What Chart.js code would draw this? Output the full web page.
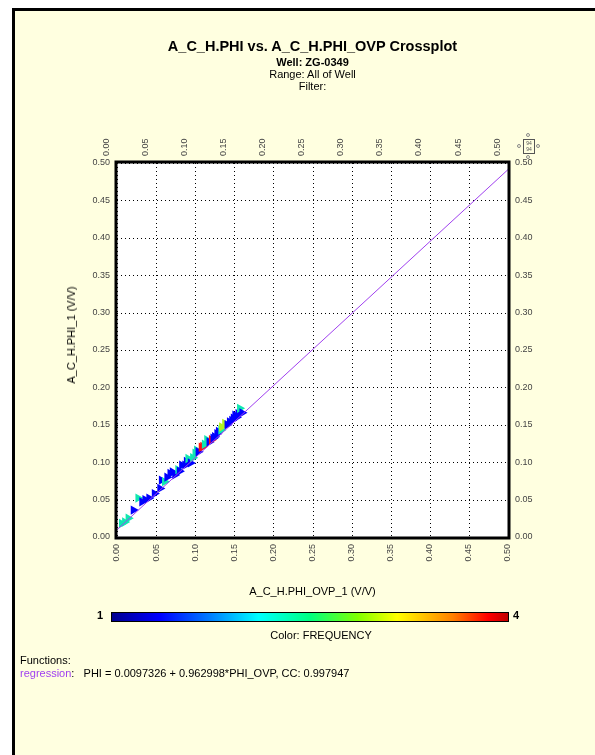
<!DOCTYPE html>
<html>
<head>
<meta charset="utf-8">
<script src="https://cdn.jsdelivr.net/npm/chart.js@4/dist/chart.umd.min.js"></script>
<style>
  body { margin: 0; background: #fff; font-family: "Liberation Sans", Arial, sans-serif; }
  #page { position: relative; width: 595px; height: 755px; overflow: hidden; background: #fff; }
  #frame { position: absolute; left: 12px; top: 8px; width: 600px; height: 760px; border: 3px solid #000; background: #ffffe0; }
  #chart { position: absolute; left: 0; top: 0; }
  .t { position: absolute; white-space: nowrap; color: #000; }
  .o { position: absolute; width: 2px; height: 2px; border: 1px solid #888; border-radius: 50%; }
  #colorbar { position: absolute; left: 111px; top: 612px; width: 396px; height: 8px; border: 1px solid #000;
    background: linear-gradient(to right, #00008f 0%, #0000ff 12%, #0080ff 25%, #00ffff 37%, #00ff80 50%, #80ff00 62%, #ffff00 72%, #ff8000 86%, #ff0000 95%, #c00000 100%); }
</style>
</head>
<body>
<div id="page">
  <div id="frame"></div>
  <canvas id="chart" width="595" height="755"></canvas>
  <div class="t" style="left:0;width:625px;top:38px;text-align:center;font-size:14.5px;font-weight:bold;">A_C_H.PHI vs. A_C_H.PHI_OVP Crossplot</div>
  <div class="t" style="left:0;width:625px;top:56px;text-align:center;font-size:11px;font-weight:bold;">Well: ZG-0349</div>
  <div class="t" style="left:0;width:625px;top:68px;text-align:center;font-size:11px;">Range: All of Well</div>
  <div class="t" style="left:0;width:625px;top:80px;text-align:center;font-size:11px;">Filter:</div>
  <div class="t" style="left:523px;top:139px;width:10px;height:13px;border:1px solid #555;font-size:5px;line-height:6px;color:#555;text-align:center;">94<br>94</div>
  <div class="o" style="left:526px;top:133px;"></div>
  <div class="o" style="left:526px;top:155px;"></div>
  <div class="o" style="left:517px;top:144px;"></div>
  <div class="o" style="left:536px;top:144px;"></div>
  <div class="t" style="left:71px;top:335px;font-size:11px;transform:translate(-50%,-50%) rotate(-90deg);">A_C_H.PHI_1 (V/V)</div>
  <div class="t" style="left:0;width:625px;top:585px;text-align:center;font-size:11px;">A_C_H.PHI_OVP_1 (V/V)</div>
  <div class="t" style="left:97px;top:609px;font-size:11px;font-weight:bold;">1</div>
  <div id="colorbar"></div>
  <div class="t" style="left:513px;top:609px;font-size:11px;font-weight:bold;">4</div>
  <div class="t" style="left:0;width:642px;top:629px;text-align:center;font-size:11px;">Color: FREQUENCY</div>
  <div class="t" style="left:20px;top:654px;font-size:11px;">Functions:</div>
  <div class="t" style="left:20px;top:667px;font-size:11px;"><span style="color:#a040f0;">regression</span>:&nbsp;&nbsp; PHI = 0.0097326 + 0.962998*PHI_OVP, CC: 0.997947</div>
</div>
<script>
// crossplot points: PHI_OVP (x), PHI (y), frequency (colour)
const phiOvp = [0.006, 0.010, 0.0145, 0.021, 0.027, 0.032, 0.036, 0.041, 0.048, 0.055, 0.057, 0.061, 0.064,
  0.068, 0.071, 0.074, 0.078, 0.080, 0.083, 0.087, 0.089, 0.091, 0.094, 0.097, 0.100, 0.102, 0.104, 0.108,
  0.110, 0.112, 0.115, 0.118, 0.121, 0.123, 0.125, 0.128, 0.130, 0.133, 0.134, 0.138, 0.141, 0.144, 0.147,
  0.149, 0.151, 0.153, 0.155, 0.157, 0.160];
const phi = [0.018, 0.020, 0.025, 0.036, 0.052, 0.047, 0.050, 0.052, 0.058, 0.065, 0.076, 0.074, 0.080,
  0.085, 0.087, 0.083, 0.090, 0.088, 0.096, 0.096, 0.101, 0.105, 0.099, 0.106, 0.112, 0.116, 0.114, 0.120,
  0.121, 0.124, 0.130, 0.127, 0.130, 0.132, 0.134, 0.138, 0.141, 0.143, 0.147, 0.152, 0.150, 0.154, 0.156,
  0.159, 0.163, 0.160, 0.165, 0.172, 0.166];
const frequency = [2, 2, 2, 1, 2, 1, 1, 1, 1, 1, 1, 2, 1,
  1, 1, 1, 2, 1, 1, 1, 1, 2, 1, 2, 2, 2, 1, 4,
  4, 2, 2, 1, 4, 1, 1, 1, 1, 2, 3, 3, 1, 1, 1,
  1, 1, 1, 1, 2, 1];

// regression line end points
const regX = [0.0, 0.5];
const regY = [0.0097, 0.4912];

const tickVals = [0, 0.05, 0.10, 0.15, 0.20, 0.25, 0.30, 0.35, 0.40, 0.45, 0.50];

const freqColors = { 1: '#0000ff', 2: '#10e8b0', 3: '#b0f020', 4: '#ff1010' };

const points = phiOvp.map((x, i) => ({ x: x, y: phi[i] }));
const regLine = regX.map((x, i) => ({ x: x, y: regY[i] }));

// white plot area, dotted grid from the scales, thick black frame
const frameBox = {
  id: 'frameBox',
  beforeDatasetsDraw(chart) {
    const a = chart.chartArea, ctx = chart.ctx;
    const xs = chart.scales.x, ys = chart.scales.y;
    ctx.save();
    ctx.fillStyle = '#fff';
    ctx.fillRect(a.left, a.top, a.right - a.left, a.bottom - a.top);
    ctx.strokeStyle = '#000';
    ctx.lineWidth = 1;
    ctx.setLineDash([1, 3]);
    xs.ticks.forEach(t => {
      const px = Math.round(xs.getPixelForValue(t.value)) + 0.5;
      ctx.beginPath(); ctx.moveTo(px, a.top); ctx.lineTo(px, a.bottom); ctx.stroke();
    });
    ys.ticks.forEach(t => {
      const py = Math.round(ys.getPixelForValue(t.value)) + 0.5;
      ctx.beginPath(); ctx.moveTo(a.left, py); ctx.lineTo(a.right, py); ctx.stroke();
    });
    ctx.restore();
  },
  afterDraw(chart) {
    const a = chart.chartArea, ctx = chart.ctx;
    ctx.save();
    ctx.strokeStyle = '#000';
    ctx.lineWidth = 3;
    ctx.strokeRect(a.left - 1, a.top - 1, a.right - a.left + 2, a.bottom - a.top + 2);
    ctx.restore();
  }
};

const tickFont = { family: 'Liberation Sans', size: 9 };
const fmt = v => Number(v).toFixed(2);
const noGrid = { display: false, drawTicks: false, tickLength: 0 };

function xAxis(pos, h) {
  return {
    type: 'linear', position: pos, min: 0, max: 0.5,
    afterBuildTicks: s => { s.ticks = tickVals.map(v => ({ value: v })); },
    afterFit: s => { s.height = h; },
    grid: noGrid,
    border: { display: false },
    ticks: { minRotation: 90, maxRotation: 90, padding: 7, color: '#444', font: tickFont, callback: fmt }
  };
}
function yAxis(pos, w) {
  return {
    type: 'linear', position: pos, min: 0, max: 0.5,
    afterBuildTicks: s => { s.ticks = tickVals.map(v => ({ value: v })); },
    afterFit: s => { s.width = w; },
    grid: noGrid,
    border: { display: false },
    ticks: { padding: 7, color: '#444', font: tickFont, callback: fmt }
  };
}

new Chart(document.getElementById('chart'), {
  type: 'scatter',
  data: {
    datasets: [
      {
        type: 'line', data: regLine, borderColor: '#a040f0', borderWidth: 1,
        pointRadius: 0, fill: false, xAxisID: 'x', yAxisID: 'y'
      },
      {
        data: points,
        pointStyle: 'triangle', rotation: 90, pointRadius: 5.4, borderWidth: 0,
        backgroundColor: frequency.map(f => freqColors[f]),
        xAxisID: 'x', yAxisID: 'y'
      }
    ]
  },
  options: {
    responsive: false,
    animation: false,
    layout: { padding: { left: 80, right: 40, top: 120, bottom: 150 } },
    plugins: { legend: { display: false }, tooltip: { enabled: false } },
    scales: {
      x: xAxis('bottom', 68),
      x2: xAxis('top', 43),
      y: yAxis('left', 37),
      y2: yAxis('right', 47)
    }
  },
  plugins: [frameBox]
});
</script>
</body>
</html>
